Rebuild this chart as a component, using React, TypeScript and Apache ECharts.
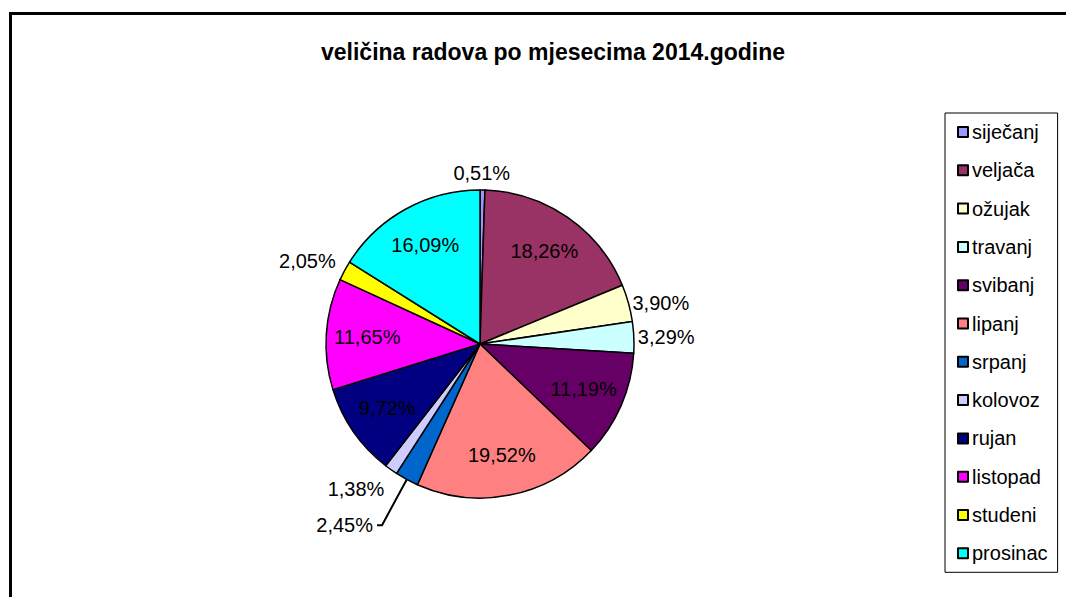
import React, { useEffect, useRef } from "react";
import * as echarts from "echarts";

const TITLE = "veličina radova po mjesecima 2014.godine";
const months = ["siječanj", "veljača", "ožujak", "travanj", "svibanj", "lipanj", "srpanj", "kolovoz", "rujan", "listopad", "studeni", "prosinac"];
const shares = [0.51, 18.26, 3.9, 3.29, 11.19, 19.52, 2.45, 1.38, 9.72, 11.65, 2.05, 16.09];
const colors = ["#9999FF", "#993366", "#FFFFCC", "#CCFFFF", "#660066", "#FF8080", "#0066CC", "#CCCCFF", "#000080", "#FF00FF", "#FFFF00", "#00FFFF"];
// which labels sit outside the pie
const outsideLabel = [true, false, true, true, false, false, true, true, false, false, true, false];
const leaderLen = [17, 0, 0, 0, 0, 0, 52, 15, 0, 0, 10, 0];
const leaderLen2 = [0, 0, 0, 0, 0, 0, 5, 0, 0, 0, 0, 0];
const showLeader = [false, false, false, false, false, false, true, false, false, false, false, false];

const FONT = "'Liberation Sans', Arial, sans-serif";
const fmt = (v: number) => v.toFixed(2).replace(".", ",") + "%";

export default function App() {
  const ref = useRef<HTMLDivElement>(null);
  useEffect(() => {
    if (!ref.current) return;
    const chart = echarts.init(ref.current, undefined, { renderer: "svg" });
    const outerData = months.map((m, i) => ({
      name: m,
      value: shares[i],
      itemStyle: { color: colors[i] },
      label: { show: outsideLabel[i] },
      labelLine: { show: showLeader[i], length: leaderLen[i], length2: leaderLen2[i] },
    }));
    const innerData = months.map((m, i) => ({
      name: m,
      value: shares[i],
      label: { show: !outsideLabel[i] },
    }));
    chart.setOption({
      animation: false,
      backgroundColor: "#fff",
      color: colors,
      title: {
        text: TITLE,
        left: 553,
        textAlign: "center",
        top: 40,
        padding: 0,
        textStyle: { fontFamily: FONT, fontSize: 23, fontWeight: "bold", color: "#000" },
      },
      legend: {
        orient: "vertical",
        left: 945,
        top: 113,
        data: months,
        icon: "rect",
        itemWidth: 10,
        itemHeight: 10,
        itemGap: 18.3,
        padding: [9, 10, 9, 12],
        borderColor: "#000",
        borderWidth: 1,
        backgroundColor: "#fff",
        selectedMode: false,
        itemStyle: { borderColor: "#000", borderWidth: 2 },
        textStyle: { fontFamily: FONT, fontSize: 20, lineHeight: 20, color: "#000", padding: [0, 0, 0, -1] },
      },
      graphic: [
        {
          type: "rect",
          shape: { x: 10.5, y: 13.5, width: 1200, height: 800 },
          style: { fill: "none", stroke: "#000", lineWidth: 3 },
          silent: true,
          z: 100,
        },
      ],
      series: [
        {
          type: "pie",
          center: [480, 344],
          radius: [0, 154],
          startAngle: 90,
          clockwise: true,
          avoidLabelOverlap: false,
          itemStyle: { borderColor: "#000", borderWidth: 1.5 },
          emphasis: { disabled: true },
          label: {
            position: "outside",
            formatter: (p: any) => fmt(p.value),
            fontFamily: FONT,
            fontSize: 20,
            color: "#000",
            distanceToLabelLine: 4,
          },
          labelLine: { lineStyle: { color: "#000", width: 2 }, smooth: false },
          labelLayout: (p: any) => {
            if (p.dataIndex === 0) return { align: "center", dx: -5 };
            if (p.dataIndex === 7) return { dx: 6, dy: 7 };
            if (p.dataIndex === 10) return { dx: 4, dy: -5 };
            return {};
          },
          data: outerData,
        },
        {
          type: "pie",
          center: [480, 344],
          radius: [66, 154],
          startAngle: 90,
          clockwise: true,
          silent: true,
          avoidLabelOverlap: false,
          itemStyle: { color: "rgba(0,0,0,0)", borderWidth: 0 },
          emphasis: { disabled: true },
          label: {
            position: "inside",
            formatter: (p: any) => fmt(p.value),
            fontFamily: FONT,
            fontSize: 20,
            color: "#000",
          },
          labelLine: { show: false },
          data: innerData,
          z: 3,
        },
      ],
    });
    return () => chart.dispose();
  }, []);
  return (
    <div
      ref={ref}
      style={{ position: "fixed", left: 0, top: 0, width: 1066, height: 597, background: "#fff" }}
    />
  );
}
